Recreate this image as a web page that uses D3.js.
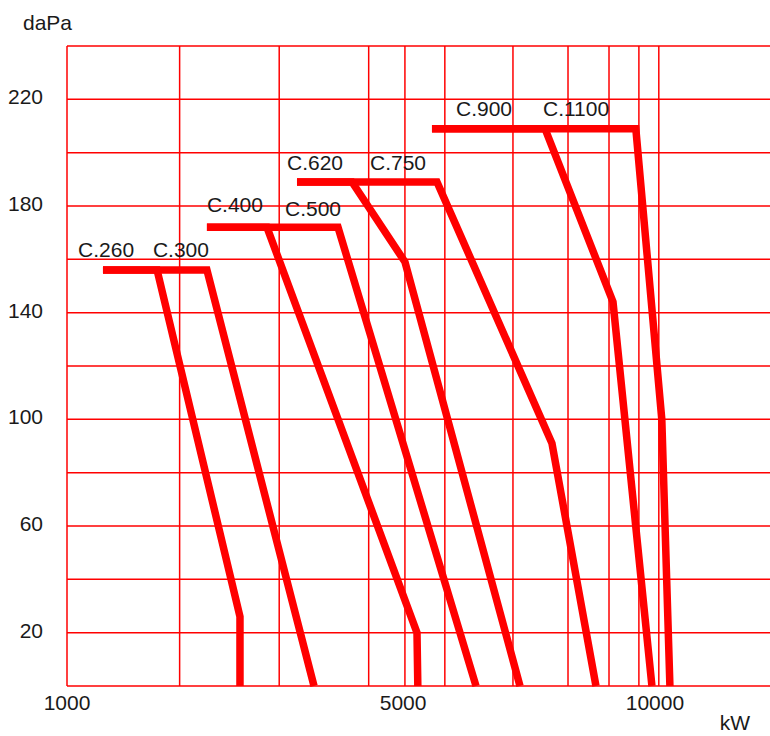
<!DOCTYPE html>
<html>
<head>
<meta charset="utf-8">
<script src="https://cdn.jsdelivr.net/npm/d3@7"></script>
<style>
  html, body { margin: 0; padding: 0; background: #ffffff; }
  svg { display: block; }
  text { font-family: "Liberation Sans", Arial, sans-serif; fill: #1a1a1a; }
</style>
</head>
<body>
<svg id="chart" width="770" height="736"></svg>
<script>
// ---------- data (kW on x, daPa on y) ----------
const seriesNames = ["C.260", "C.300", "C.400", "C.500", "C.620", "C.750", "C.900", "C.1100"];

const kwC260  = [1282, 1772, 2677, 2677];
const paC260  = [156, 156, 26, 0];
const kwC300  = [1282, 2294, 3642];
const paC300  = [156, 156, 0];
const kwC400  = [2294, 3012, 5231, 5245];
const paC400  = [172, 172, 20, 0];
const kwC500  = [2294, 3987, 6271];
const paC500  = [172, 172, 0];
const kwC620  = [3407, 4195, 5031, 7107];
const paC620  = [189, 189, 159, 0];
const kwC750  = [3407, 5573, 7748, 8675];
const paC750  = [189, 189, 91, 0];
const kwC900  = [5486, 7606, 9048, 9930];
const paC900  = [209, 209, 144, 0];
const kwC1100 = [5486, 9560, 10160, 10351];
const paC1100 = [209, 209, 100, 0];

// label anchor points (left edge / baseline) in data units
const labelKW = [1083, 1732, 2294, 3246, 3273, 4470, 5908, 7565];
const labelPa = [160.9, 160.9, 177.7, 176.2, 193.5, 193.5, 213.7, 213.7];

// axes
const xTickLabels = [1000, 5000, 10000];
const xGridValues = [1000, 2000, 3170, 4450, 5030, 5710, 6970, 8080, 8960, 9630, 10090];
const yTickLabels = [20, 60, 100, 140, 180, 220];
const yGridValues = [0, 20, 40, 60, 80, 100, 120, 140, 160, 180, 200, 220, 240];
const xDomain = [1000, 12855];
const yDomain = [0, 240];

// ---------- drawing ----------
const RED = "#ff0000";
const svg = d3.select("#chart");
const pLeft = 67, pRight = 770, pTop = 46, pBottom = 686;

const x = d3.scalePow().exponent(0.5).domain(xDomain).range([pLeft, pRight]);
const y = d3.scaleLinear().domain(yDomain).range([pBottom, pTop]);

// grid
const grid = svg.append("g");
grid.selectAll("line.h").data(yGridValues).join("line")
  .attr("class", "h")
  .attr("x1", pLeft).attr("x2", pRight)
  .attr("y1", d => y(d)).attr("y2", d => y(d))
  .attr("stroke", RED).attr("stroke-width", 1.5);
grid.selectAll("line.v").data(xGridValues).join("line")
  .attr("class", "v")
  .attr("x1", d => x(d)).attr("x2", d => x(d))
  .attr("y1", y(240)).attr("y2", y(0))
  .attr("stroke", RED).attr("stroke-width", 1.5);

// y tick labels
svg.append("g").selectAll("text").data(yTickLabels).join("text")
  .attr("x", 43).attr("y", d => y(d) + 5)
  .attr("text-anchor", "end")
  .attr("font-size", 21)
  .text(d => d);

// x tick labels
svg.append("g").selectAll("text").data(xTickLabels).join("text")
  .attr("x", d => x(d)).attr("y", 710)
  .attr("text-anchor", "middle")
  .attr("font-size", 21)
  .text(d => d);

// axis titles
svg.append("text").attr("x", 23).attr("y", 30).attr("font-size", 21).text("daPa");
svg.append("text").attr("x", 735).attr("y", 730).attr("text-anchor", "middle").attr("font-size", 21).text("kW");

// series lines
const kwAll = [kwC260, kwC300, kwC400, kwC500, kwC620, kwC750, kwC900, kwC1100];
const paAll = [paC260, paC300, paC400, paC500, paC620, paC750, paC900, paC1100];
const series = seriesNames.map((n, i) => ({
  name: n,
  pts: kwAll[i].map((k, j) => [k, paAll[i][j]])
}));

const line = d3.line().x(d => x(d[0])).y(d => y(d[1]));
svg.append("g").selectAll("path").data(series).join("path")
  .attr("d", d => line(d.pts))
  .attr("fill", "none")
  .attr("stroke", RED)
  .attr("stroke-width", 7.5)
  .attr("stroke-linejoin", "miter")
  .attr("stroke-linecap", "butt");

// series labels
svg.append("g").selectAll("text").data(seriesNames).join("text")
  .attr("x", (d, i) => x(labelKW[i]))
  .attr("y", (d, i) => y(labelPa[i]))
  .attr("font-size", 21)
  .text(d => d);
</script>
</body>
</html>
